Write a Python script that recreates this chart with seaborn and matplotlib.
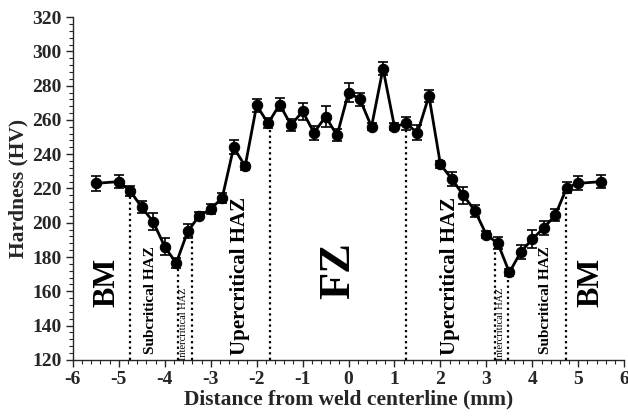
import numpy as np
import pandas as pd
import matplotlib
matplotlib.use("Agg")
import matplotlib.pyplot as plt
from matplotlib.ticker import MultipleLocator
import seaborn as sns

# Hardness profile across the weld
distance = [-5.5, -5.0, -4.75, -4.5, -4.25, -4.0, -3.75, -3.5, -3.25, -3.0, -2.75,
            -2.5, -2.25, -2.0, -1.75, -1.5, -1.25, -1.0, -0.75, -0.5, -0.25, 0.0,
            0.25, 0.5, 0.75, 1.0, 1.25, 1.5, 1.75, 2.0, 2.25, 2.5, 2.75, 3.0, 3.25,
            3.5, 3.75, 4.0, 4.25, 4.5, 4.75, 5.0, 5.5]
hardness = [223, 224, 218.5, 209, 200.5, 186, 176.5, 195, 204, 208, 214.5,
            244, 233, 268.5, 258, 269, 257, 265, 252.5, 262, 251, 276,
            272, 256, 290, 256, 258, 252.5, 274, 234, 225.5, 216, 207, 193, 188,
            171, 183, 190.5, 197, 204.5, 220.5, 223, 224]
hardness_err = [4.5, 4, 3, 3.5, 5, 5, 3, 4, 2, 3, 3,
                4, 2, 4, 3, 4, 3.5, 5, 4, 6, 3.5, 5.5,
                4, 2, 4, 2, 4, 4.5, 3.5, 2, 4, 5, 3.5, 2, 3.5,
                2, 4, 5, 4, 3.5, 3, 4, 4]

# Zone boundaries (mm)
boundaries = [-4.75, -3.72, -3.41, -1.71, 1.25, 3.18, 3.48, 4.74]

# Zone labels: text, x position, y centre, font size, weight
zone_text = ["BM", "Subcritical HAZ", "Intercritical HAZ", "Upercritical HAZ", "FZ",
             "Upercritical HAZ", "Intercritical HAZ", "Subcritical HAZ", "BM"]
zone_x = [-5.25, -4.32, -3.6, -2.37, -0.22, 2.2, 3.3, 4.28, 5.27]
zone_y = [165, 155, 141, 169, 172, 169, 141, 155, 165]
zone_size = [22, 11, 7.5, 15, 32, 15, 7.5, 11, 22]
zone_weight = ["bold", "bold", "normal", "bold", "bold", "bold", "normal", "bold", "bold"]

df = pd.DataFrame({"distance": distance, "hardness": hardness, "err": hardness_err})

sns.set_style("ticks")
plt.rcParams["font.family"] = ["Liberation Serif", "DejaVu Serif"]
plt.rcParams["axes.unicode_minus"] = False

fig = plt.figure(figsize=(6.28, 4.17), dpi=100)
ax = fig.add_axes([0.116, 0.137, 0.878, 0.822])

# Dotted boundary lines reaching up to the profile
tops = np.interp(boundaries, distance, hardness)
for bx, top in zip(boundaries, tops):
    ax.plot([bx, bx], [120, top], color="black", linestyle=(0, (1, 1.5)),
            linewidth=1.6, zorder=1)

ax.errorbar(df["distance"], df["hardness"], yerr=df["err"], fmt="none",
            ecolor="black", elinewidth=1.2, capsize=3.5, capthick=1.2, zorder=2)
sns.lineplot(data=df, x="distance", y="hardness", ax=ax, color="black",
             linewidth=2, marker="o", markersize=7.5, markeredgecolor="black",
             zorder=3)

for t, x, y, s, w in zip(zone_text, zone_x, zone_y, zone_size, zone_weight):
    ax.text(x, y, t, rotation=90, ha="center", va="center", fontsize=s,
            fontweight=w, color="black")

ax.set_xlim(-6, 6)
ax.set_ylim(120, 320)
ax.xaxis.set_major_locator(MultipleLocator(1))
ax.xaxis.set_minor_locator(MultipleLocator(0.2))
ax.yaxis.set_major_locator(MultipleLocator(20))
ax.yaxis.set_minor_locator(MultipleLocator(4))
ax.tick_params(axis="both", which="major", direction="out", length=5, width=1,
               labelsize=14, pad=3)
ax.tick_params(axis="both", which="minor", direction="out", length=3, width=0.8)
for lab in ax.get_xticklabels() + ax.get_yticklabels():
    lab.set_fontweight("bold")

ax.set_xlabel("Distance from weld centerline (mm)", fontsize=15.5,
              fontweight="bold", labelpad=1)
ax.set_ylabel("Hardness (HV)", fontsize=15.5, fontweight="bold", labelpad=3)

for side in ["top", "right"]:
    ax.spines[side].set_visible(False)
for side in ["left", "bottom"]:
    ax.spines[side].set_linewidth(1)

fig.savefig("out.png", dpi=100)
